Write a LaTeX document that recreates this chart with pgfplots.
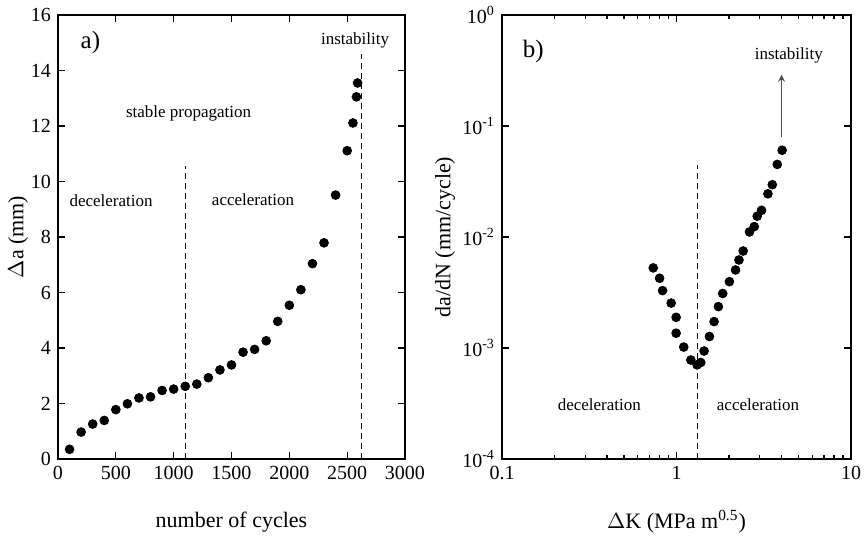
\documentclass[border=0pt]{standalone}
\usepackage{fontspec}
\setmainfont{Liberation Serif}
\usepackage{pgfplots}
\pgfplotsset{compat=1.18}
\begin{document}
\begin{tikzpicture}
\path[use as bounding box] (0,0) rectangle (433pt,270.5pt);
\pgfplotsset{
  every axis/.style={
    scale only axis,
    anchor=south west,
    height=222pt,
    axis line style={line width=0.75pt},
    tick align=inside,
    tick style={black, line width=0.6pt},
    major tick length=3.5pt,
    minor tick length=2pt,
    /pgf/number format/assume math mode=true,
    tick label style={font=\fontsize{10}{12}\selectfont},
    label style={font=\fontsize{11}{13}\selectfont},
    clip=false,
  },
}
% ---------- left panel ----------
\begin{axis}[
  at={(29pt,41pt)},
  width=173.5pt,
  xmin=0, xmax=3000, ymin=0, ymax=16,
  xtick={0,500,...,3000}, ytick={0,2,...,16},
  /pgf/number format/1000 sep={},
  xlabel={number of cycles},
  ylabel={$\Delta$a (mm)},
  xlabel style={at={(axis description cs:0.5,0)}, anchor=center, yshift=-31.5pt},
  ylabel style={at={(axis description cs:0,0.5)}, anchor=center, yshift=20pt},
]
\addplot[only marks, mark=*, mark size=2.2pt, black] coordinates {
(100,0.35) (200,0.97) (300,1.26) (400,1.39) (500,1.78) (600,1.99)
(700,2.20) (800,2.24) (900,2.47) (1000,2.52) (1100,2.62) (1200,2.70)
(1300,2.93) (1400,3.21) (1500,3.39) (1600,3.85) (1700,3.95) (1800,4.26)
(1900,4.96) (2000,5.54) (2100,6.10) (2200,7.04) (2300,7.79) (2400,9.51)
(2500,11.11) (2550,12.11) (2580,13.05) (2590,13.55)
};
\addplot[black, line width=0.5pt, dash pattern=on 3pt off 2pt] coordinates {(1100,0) (1100,10.55)};
\addplot[black, line width=0.5pt, dash pattern=on 3pt off 2pt] coordinates {(2620,0) (2620,14.6)};
\node[font=\fontsize{12.5}{14}\selectfont, anchor=west] at (axis cs:135,15.0) {a)};
\node[font=\fontsize{8.5}{10}\selectfont] at (axis cs:2568,15.1) {instability};
\node[font=\fontsize{8.5}{10}\selectfont] at (axis cs:1129,12.46) {stable propagation};
\node[font=\fontsize{8.5}{10}\selectfont] at (axis cs:459,9.32) {deceleration};
\node[font=\fontsize{8.5}{10}\selectfont] at (axis cs:1686,9.35) {acceleration};
\end{axis}
% ---------- right panel ----------
\begin{axis}[
  at={(251pt,41pt)},
  width=174.5pt,
  xmode=log, ymode=log,
  xmin=0.1, xmax=10, ymin=1e-4, ymax=1,
  xtick={0.1,1,10}, xticklabels={0.1,1,10},
  ytick={1e-4,1e-3,1e-2,1e-1,1},
  yticklabels={10\textsuperscript{-4},10\textsuperscript{-3},10\textsuperscript{-2},10\textsuperscript{-1},10\textsuperscript{0}},
  yminorticks=false,
  xlabel={$\Delta$K (MPa m\textsuperscript{0.5})},
  ylabel={da/dN (mm/cycle)},
  xlabel style={at={(axis description cs:0.5,0)}, anchor=center, yshift=-31.5pt},
  ylabel style={at={(axis description cs:0,0.5)}, anchor=center, yshift=28.5pt},
]
\addplot[only marks, mark=*, mark size=2.2pt, black] coordinates {
(0.736,5.27e-3) (0.80,4.25e-3) (0.832,3.29e-3) (0.932,2.54e-3) (0.995,1.89e-3)
(0.995,1.36e-3) (1.10,1.02e-3) (1.208,7.8e-4) (1.312,7.05e-4) (1.377,7.4e-4)
(1.439,9.4e-4) (1.544,1.27e-3) (1.642,1.73e-3) (1.738,2.36e-3) (1.84,3.1e-3)
(2.01,3.96e-3) (2.18,5.05e-3) (2.28,6.21e-3) (2.41,7.48e-3) (2.62,1.11e-2)
(2.79,1.24e-2) (2.90,1.54e-2) (3.07,1.74e-2) (3.34,2.45e-2) (3.54,2.96e-2)
(3.78,4.51e-2) (4.03,6.05e-2)
};
\addplot[black, line width=0.5pt, dash pattern=on 3pt off 2pt] coordinates {(1.32,1e-4) (1.32,0.045)};
\draw[-stealth, line width=0.6pt, black!70] (axis cs:4.0,0.08) -- (axis cs:4.0,0.29);
\node[font=\fontsize{12.5}{14}\selectfont, anchor=west] at (axis cs:0.12,0.465) {b)};
\node[font=\fontsize{8.5}{10}\selectfont] at (axis cs:4.4,0.43) {instability};
\node[font=\fontsize{8.5}{10}\selectfont] at (axis cs:0.361,3.1e-4) {deceleration};
\node[font=\fontsize{8.5}{10}\selectfont] at (axis cs:2.93,3.1e-4) {acceleration};
\end{axis}
\end{tikzpicture}
\end{document}
